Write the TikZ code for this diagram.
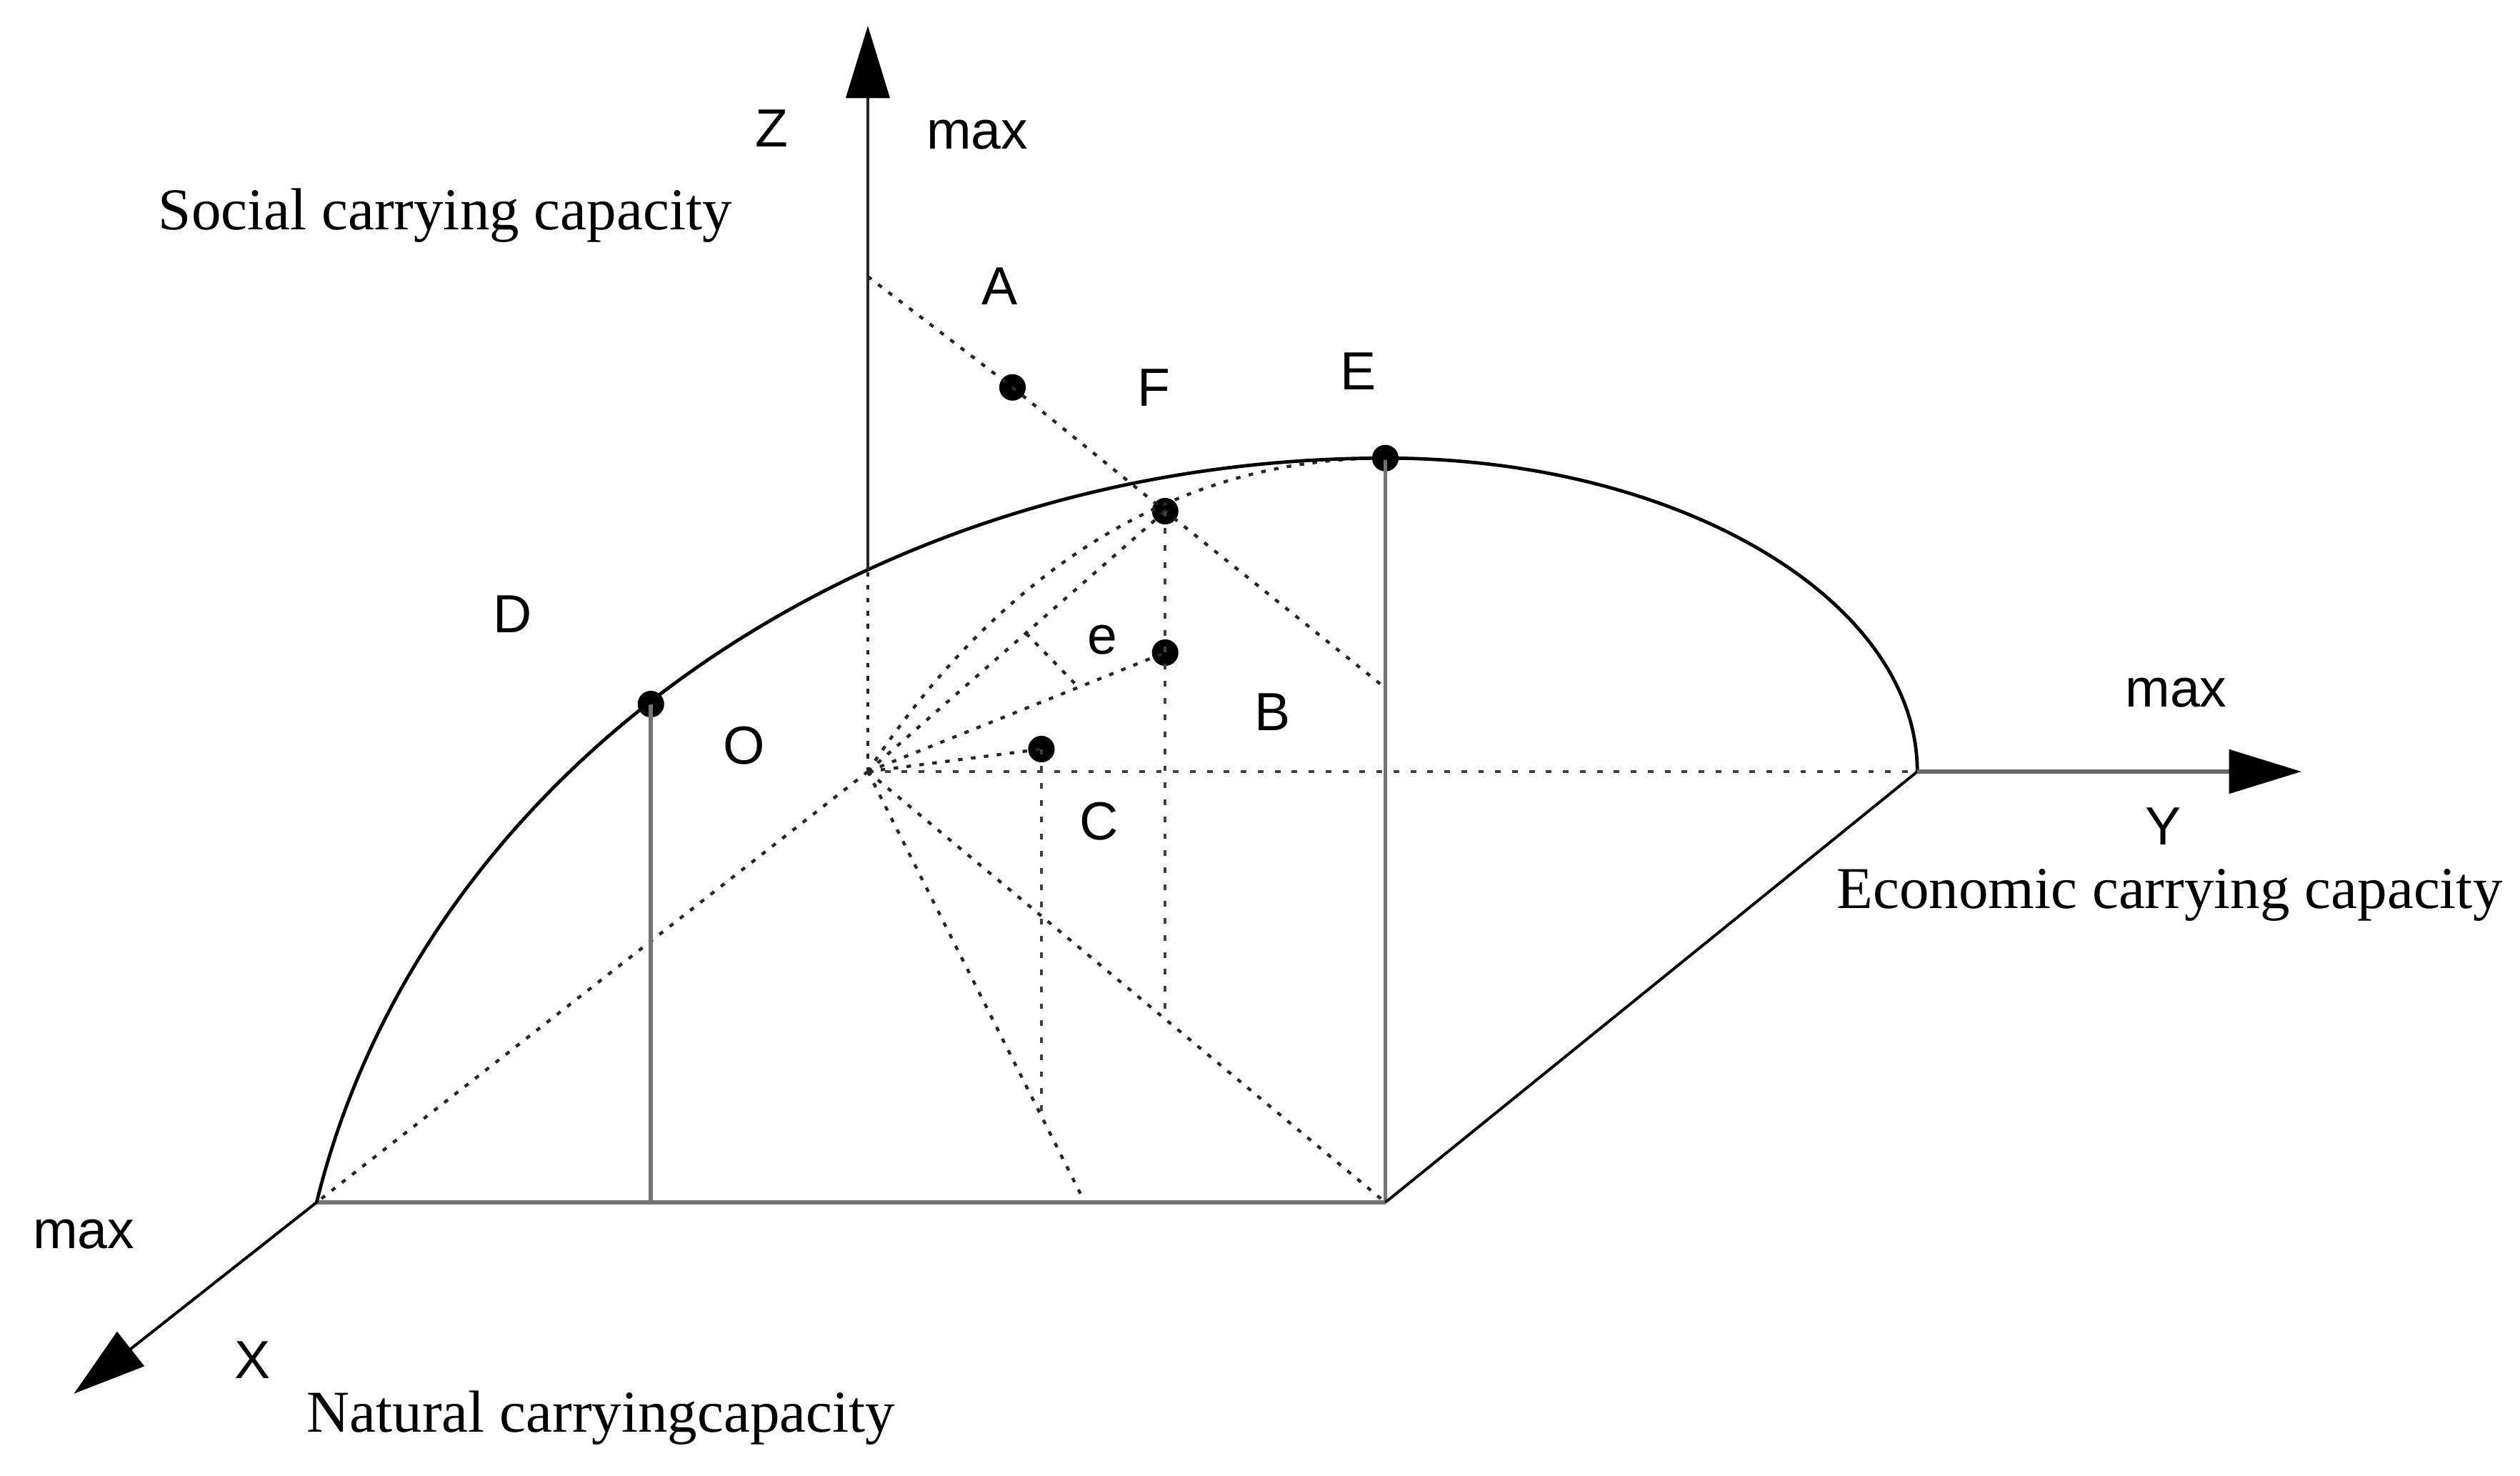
\documentclass[tikz,border=0pt]{standalone}
\usepackage{fontspec}
\setmainfont{Liberation Serif}
\setsansfont{Liberation Sans}
\usetikzlibrary{arrows.meta}
\begin{document}
\begin{tikzpicture}[x=0.01cm,y=-0.01cm,
  lbl/.style={font=\sffamily\fontsize{9.5}{11}\selectfont, inner sep=0pt},
  captext/.style={font=\fontsize{10.5}{12}\selectfont, inner sep=0pt},
  dotline/.style={line width=0.55pt, draw=black!85, dash pattern=on 0.8pt off 1.5pt},
  dashline/.style={line width=0.55pt, draw=black!75, dash pattern=on 1pt off 2pt},
  pt/.style={circle, fill=black, inner sep=0pt, minimum size=0.165cm},
  grayline/.style={line width=0.7pt, draw=black!55},
  tipped/.style={-{Triangle[length=0.45cm,width=0.27cm,color=black]}}
]
\useasboundingbox (0,0) rectangle (1568,918);
% key coordinates
\coordinate (O) at (540,480);
\coordinate (Xc) at (197,748);
\coordinate (Yc) at (1193,480);
\coordinate (Zc) at (540,354.5);
\coordinate (Xt) at (46,867);
\coordinate (Yt) at (1432,480);
\coordinate (Zt) at (540,16);
\coordinate (Pc) at (862,748);
\coordinate (Pb) at (675,748);
\coordinate (Dfoot) at (405,748);
\coordinate (Zs) at (540,172);
\coordinate (Es) at (862,428);
\coordinate (Ffoot) at (725,633);
\coordinate (Cfoot) at (648,692);
\coordinate (m1) at (638.5,394);
\coordinate (m2) at (671,427.5);
% points
\node[pt] (A) at (630,241) {};
\node[pt] (F) at (725,318) {};
\node[pt] (E) at (862,285) {};
\node[pt] (D) at (405,438) {};
\node[pt] (ep) at (725,406) {};
\node[pt] (cp) at (648,466) {};
% dotted construction lines
\draw[dotline] (O) -- (Zc);
\draw[dashline] (O) -- (Yc);
\draw[dotline] (O) -- (Xc);
\draw[dotline] (O) -- (Pb);
\draw[dotline] (O) -- (Pc);
\draw[dotline] (O) -- (F.center);
\draw[dotline] (O) -- (ep.center);
\draw[dotline] (O) -- (cp.center);
\draw[dotline] (O) .. controls (608,377) and (712,285) .. (E.center);
\draw[dotline] (Zs) -- (A.center) -- (F.center) -- (Es);
\draw[dashline] (F.center) -- (ep.center) -- (Ffoot);
\draw[dashline] (cp.center) -- (Cfoot);
\draw[dotline] (m1) -- (m2);
% solid lines
\draw[grayline] (Xc) -- (Pc);
\draw[grayline] (D.center) -- (Dfoot);
\draw[grayline] (E.center) -- (Pc);
\draw[line width=0.5pt] (Pc) -- (Yc);
\draw[line width=0.6pt] (Xc) .. controls (264,476) and (542,285) .. (E.center)
   .. controls (1044.8,285) and (1193,373.2) .. (Yc);
% axes
\draw[tipped, line width=0.6pt, draw=black!85] (Zc) -- (Zt);
\draw[tipped, line width=0.75pt, draw=black!60] (Yc) -- (Yt);
\draw[tipped, line width=0.5pt] (Xc) -- (Xt);
% labels
\node[lbl] (lZ) at (480,80) {Z};
\node[lbl] (lZmax) at (608,84) {max};
\node[captext] (lsoc) at (277,134) {Social carrying capacity};
\node[lbl] (lA) at (622,178) {A};
\node[lbl] (lF) at (718,241) {F};
\node[lbl] (lE) at (845,231) {E};
\node[lbl] (lD) at (319,382) {D};
\node[lbl] (lO) at (463,464) {O};
\node[lbl] (le) at (686,398) {e};
\node[lbl] (lB) at (792,443) {B};
\node[lbl] (lC) at (684,511) {C};
\node[lbl] (lYmax) at (1354,431) {max};
\node[lbl] (lY) at (1346,514) {Y};
\node[captext] (leco) at (1350,557) {Economic carrying capacity};
\node[lbl] (lXmax) at (52,768) {max};
\node[lbl] (lX) at (157,846) {X};
\node[captext] (lnat) at (374,882) {Natural carryingcapacity};
\end{tikzpicture}
\end{document}
